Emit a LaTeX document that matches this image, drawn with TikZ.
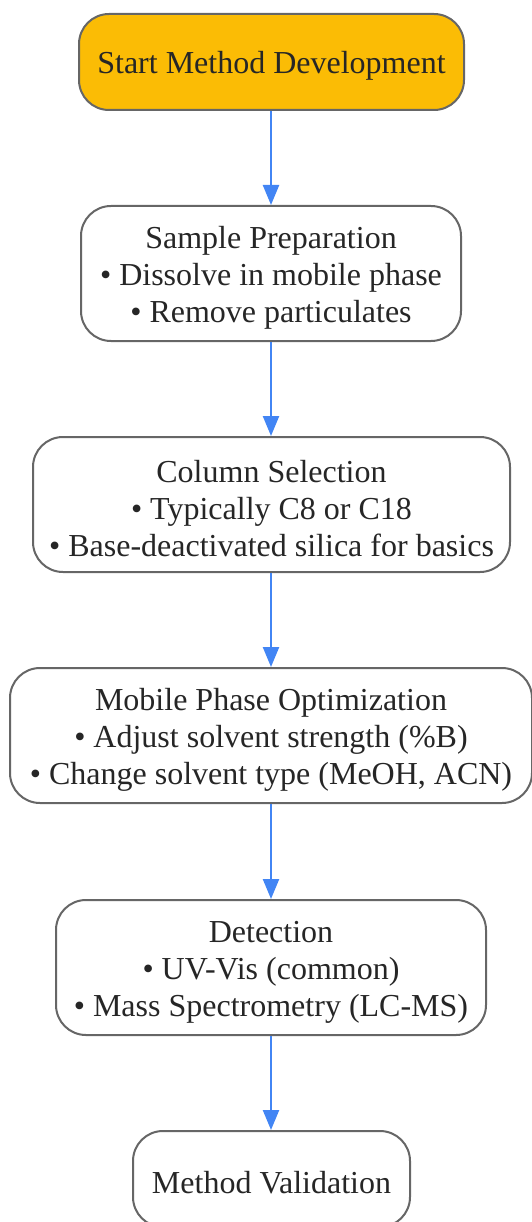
\documentclass[tikz,border=0pt]{standalone}
\usepackage{fontspec}
\setmainfont{Liberation Serif}
\usetikzlibrary{arrows.meta}
\definecolor{startfill}{HTML}{FBBC05}
\definecolor{edgegray}{HTML}{666666}
\definecolor{textgray}{HTML}{262626}
\definecolor{arrowblue}{HTML}{4285F4}
\tikzset{
  box/.style={draw=edgegray, line width=2pt, rounded corners=30pt, fill=white,
    inner sep=0pt},
  txt/.style={align=center, inner sep=0pt, text=textgray,
    font=\fontsize{32}{37}\selectfont},
  flow/.style={draw=arrowblue, line width=2.3pt, -{Triangle[length=20pt,width=16pt]}}
}
\begin{document}
\begin{tikzpicture}[x=1pt,y=-1pt]
\useasboundingbox (0,0) rectangle (531,1222);
\node[box, fill=startfill, minimum width=385pt, minimum height=96pt] (start) at (271.5,62) {};
\node[box, minimum width=380pt, minimum height=135pt] (prep) at (271,273.5) {};
\node[box, minimum width=477pt, minimum height=135pt] (col) at (271.5,504.5) {};
\node[box, minimum width=522pt, minimum height=135pt] (mob) at (271,735.5) {};
\node[box, minimum width=430pt, minimum height=135pt] (det) at (271,967.5) {};
\node[box, minimum width=277pt, minimum height=96pt] (val) at (271.5,1179) {};
\node[txt] (startT) at ([yshift=-4pt]start.center) {Start Method Development};
\node[txt] (prepT) at ([yshift=-4.5pt]prep.center) {Sample Preparation\\• Dissolve in mobile phase\\• Remove particulates};
\node[txt] (colT) at ([yshift=-4.5pt]col.center) {Column Selection\\• Typically C8 or C18\\• Base-deactivated silica for basics};
\node[txt] (mobT) at ([yshift=-4.5pt]mob.center) {Mobile Phase Optimization\\• Adjust solvent strength (\%B)\\• Change solvent type (MeOH, ACN)};
\node[txt] (detT) at ([yshift=-4.5pt]det.center) {Detection\\• UV-Vis (common)\\• Mass Spectrometry (LC-MS)};
\node[txt] (valT) at ([yshift=-4pt]val.center) {Method Validation};
\draw[flow] (start.south -| 271,0) -- (prep.north -| 271,0);
\draw[flow] (prep.south -| 271,0) -- (col.north -| 271,0);
\draw[flow] (col.south -| 271,0) -- (mob.north -| 271,0);
\draw[flow] (mob.south -| 271,0) -- (det.north -| 271,0);
\draw[flow] (det.south -| 271,0) -- (val.north -| 271,0);
\end{tikzpicture}
\end{document}
